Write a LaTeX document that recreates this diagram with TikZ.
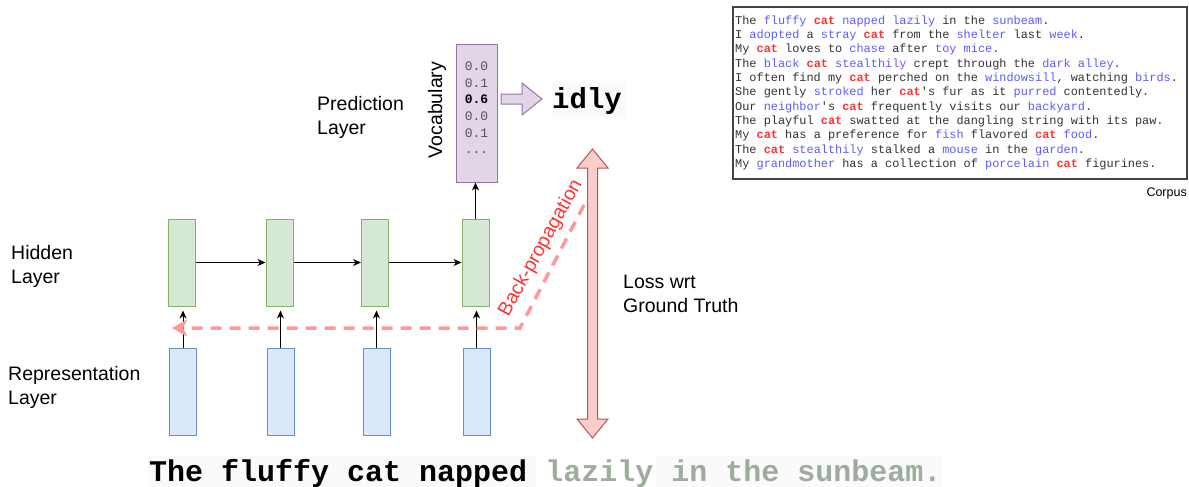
\documentclass[tikz,border=0pt]{standalone}
\usepackage{fontspec}
\setmainfont{Liberation Sans}
\newfontfamily\cmono{Liberation Mono}
\usetikzlibrary{arrows.meta}

\definecolor{hidfill}{HTML}{D5E8D4}\definecolor{hiddraw}{HTML}{82B366}
\definecolor{repfill}{HTML}{DAE8FC}\definecolor{repdraw}{HTML}{6C8EBF}
\definecolor{vocfill}{HTML}{E1D5E7}\definecolor{vocdraw}{HTML}{9673A6}
\definecolor{lossfill}{HTML}{F8CECC}\definecolor{lossdraw}{HTML}{B85450}
\definecolor{bpline}{HTML}{FF9999}\definecolor{bptext}{HTML}{FF3333}
\definecolor{kwblue}{HTML}{5C5CFF}\definecolor{catred}{HTML}{FF3333}
\definecolor{plain}{HTML}{333333}\definecolor{numgray}{HTML}{555555}
\definecolor{faded}{HTML}{9CAE9B}\definecolor{codebg}{HTML}{FAFAFA}
\definecolor{boxgray}{HTML}{444444}

\newcommand\kw[1]{\textcolor{kwblue}{#1}}
\newcommand\hlcat[1]{\textcolor{catred}{\bfseries #1}}

\begin{document}
\begin{tikzpicture}[x=1pt,y=-1pt,
  cell/.style={line width=1pt, minimum width=27pt, minimum height=87pt, inner sep=0pt},
  hid/.style={cell, fill=hidfill, draw=hiddraw},
  rep/.style={cell, fill=repfill, draw=repdraw},
  flow/.style={-{Stealth[length=8pt,width=7pt,inset=2.5pt]}, line width=0.8pt},
  lbl/.style={anchor=north west, align=left, inner sep=0pt, font=\fontsize{19.5}{24}\selectfont},
]
\useasboundingbox (0,0) rectangle (1189,487);

% hidden layer cells
\node[hid] (h1) at (181.5,262.5) {};
\node[hid] (h2) at (279.5,262.5) {};
\node[hid] (h3) at (375,262.5) {};
\node[hid] (h4) at (475.5,262.5) {};

% representation layer cells
\node[rep] (r1) at (183,391.5) {};
\node[rep] (r2) at (280.5,391.5) {};
\node[rep] (r3) at (376.5,391.5) {};
\node[rep] (r4) at (476.5,391.5) {};

% recurrent connections
\foreach \i/\j in {1/2,2/3,3/4} \draw[flow] (h\i.east) -- (h\j.west);
% inputs into hidden cells
\foreach \i in {1,2,3,4} \draw[flow, shorten >=4pt] (r\i.north) -- (r\i.north |- h\i.south);

% vocabulary distribution
\node[draw=vocdraw, fill=vocfill, line width=1pt, minimum width=41pt, minimum height=137pt, inner sep=0pt] (v) at (476.5,113.5) {};
\node[anchor=north, inner sep=0pt, align=center, text=numgray,
      font=\cmono\fontsize{13}{16.7}\selectfont] (vals) at (476.5,61.5)
  {0.0\\0.1\\\textcolor{black}{\bfseries 0.6}\\0.0\\0.1\\...};
\node[rotate=90, inner sep=0pt, font=\fontsize{19.5}{24}\selectfont] (vocl) at (437,110) {Vocabulary};
\draw[flow] (h4.north) -- (h4.north |- v.south);

% output arrow and predicted word
\draw[fill=vocfill, draw=vocdraw, line width=1pt]
  (501,94) -- (522,94) -- (522,83) -- (542,99) -- (522,115) -- (522,104) -- (501,104) -- cycle;
\fill[codebg] (553,83) rectangle (626,117);
\node[anchor=base west, inner sep=0pt, font=\cmono\bfseries\fontsize{29}{29}\selectfont] (out) at (552,108) {idly};

% loss double arrow
\draw[fill=lossfill, draw=lossdraw, line width=1pt]
  (587.5,168) -- (587.5,419) -- (577,419) -- (592.5,438) -- (608,419) -- (597.5,419)
  -- (597.5,168) -- (608,168) -- (592.5,149) -- (577,168) -- cycle;

% back-propagation path
\coordinate (bpstart) at (584,205);
\coordinate (bpturn) at (520,328);
\coordinate (bpend) at (172,328);
\draw[bpline, line width=3.5pt, dash pattern=on 11pt off 8pt,
      -{Stealth[length=15pt,width=17pt,inset=4pt]}] (bpstart) -- (bpturn) -- (bpend);
\node[text=bptext, rotate=61, inner sep=0pt, font=\fontsize{19.5}{24}\selectfont] (bpl) at (541,248) {Back-propagation};

% layer labels
\node[lbl] (predl) at (317,96) {Prediction\\Layer};
\node[lbl] (hidl) at (11,245) {Hidden\\Layer};
\node[lbl] (repl) at (8,366) {Representation\\Layer};
\node[lbl] (lossl) at (623,275) {Loss wrt\\Ground Truth};

% corpus
\node[draw=boxgray, line width=1.3pt, minimum width=454pt, minimum height=172pt, inner sep=0pt] (corpusbox) at (960,93) {};
\node[anchor=north west, inner sep=0pt, align=left, text=plain,
      font=\cmono\fontsize{11.9}{14.3}\selectfont] (corpus) at (735,15.5) {%
The \kw{fluffy} \hlcat{cat} \kw{napped} \kw{lazily} in the \kw{sunbeam}.\\
I \kw{adopted} a \kw{stray} \hlcat{cat} from the \kw{shelter} last \kw{week}.\\
My \hlcat{cat} loves to \kw{chase} after \kw{toy} \kw{mice}.\\
The \kw{black} \hlcat{cat} \kw{stealthily} crept through the \kw{dark} \kw{alley}.\\
I often find my \hlcat{cat} perched on the \kw{windowsill}, watching \kw{birds}.\\
She gently \kw{stroked} her \hlcat{cat}'s fur as it \kw{purred} contentedly.\\
Our \kw{neighbor}'s \hlcat{cat} frequently visits our \kw{backyard}.\\
The playful \hlcat{cat} swatted at the dangling string with its paw.\\
My \hlcat{cat} has a preference for \kw{fish} flavored \hlcat{cat} \kw{food}.\\
The \hlcat{cat} \kw{stealthily} stalked a \kw{mouse} in the \kw{garden}.\\
My \kw{grandmother} has a collection of \kw{porcelain} \hlcat{cat} figurines.};
\node[anchor=east, inner sep=0pt, font=\fontsize{12.5}{15}\selectfont] (corpl) at (1187,193) {Corpus};

% input sentence
\fill[codebg] (148,456) rectangle (536,487);
\fill[codebg] (656,456) rectangle (942,487);
\node[anchor=base west, inner sep=0pt, font=\cmono\bfseries\fontsize{30}{30}\selectfont] (sent) at (149,481)
  {The fluffy cat napped \textcolor{faded}{lazily in the sunbeam.}};
\end{tikzpicture}
\end{document}
